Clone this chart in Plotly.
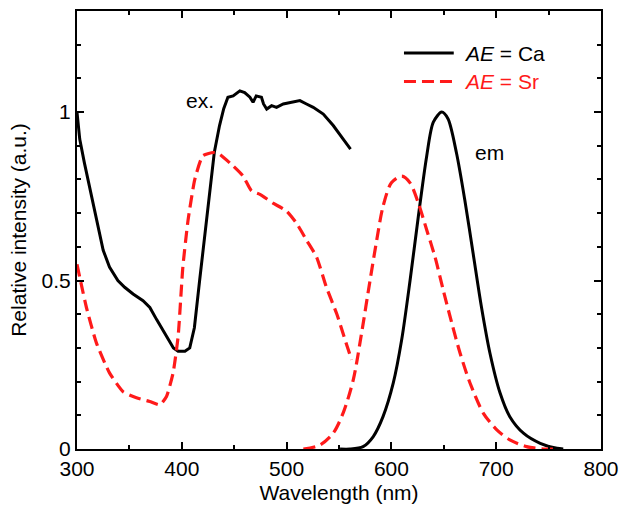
import plotly.graph_objects as go

# Excitation spectra (ex.)
ca_ex_wl = [300, 302.6, 307, 312, 318.5, 325, 331, 339, 345.5, 353.5, 363, 369.5, 376, 384,
            392, 396.5, 403, 407.6, 412, 417, 420, 425, 431, 436, 440, 444, 449, 455.4, 460,
            465, 468, 471, 476, 478, 481, 485.7, 490.4, 496.8, 506, 512.7, 519, 525.4, 535,
            544.5, 554, 561]
ca_ex_int = [1.0, 0.92, 0.85, 0.78, 0.68, 0.59, 0.54, 0.50, 0.48, 0.46, 0.44, 0.42, 0.384,
             0.34, 0.30, 0.29, 0.29, 0.30, 0.36, 0.50, 0.58, 0.72, 0.88, 0.96, 1.01, 1.044,
             1.048, 1.063, 1.058, 1.044, 1.029, 1.048, 1.044, 1.024, 1.009, 1.019, 1.014,
             1.024, 1.029, 1.034, 1.024, 1.014, 0.994, 0.96, 0.92, 0.89]

sr_ex_wl = [300, 309, 318.5, 331, 344, 356.7, 369.4, 379, 385.4, 391.7, 396.5, 401, 406,
            412.4, 420, 430, 436, 449, 458.5, 466.5, 474.5, 487, 500, 509.5, 519, 528.6,
            538, 548, 555.7, 562]
sr_ex_int = [0.548, 0.42, 0.315, 0.226, 0.17, 0.152, 0.141, 0.131, 0.156, 0.226, 0.334, 0.54,
             0.68, 0.80, 0.87, 0.88, 0.875, 0.84, 0.81, 0.766, 0.756, 0.73, 0.706, 0.67, 0.62,
             0.57, 0.48, 0.40, 0.325, 0.265]

# Emission spectra (em)
ca_em_wl = [551, 560.5, 573, 582.7, 592, 601.8, 609.8, 617.8, 625.7, 633.7, 640, 648, 654,
            662, 670, 678, 686, 694, 703.7, 713, 726, 742, 758, 764]
ca_em_int = [0.0, 0.0, 0.007, 0.037, 0.096, 0.196, 0.324, 0.50, 0.69, 0.87, 0.97, 1.0, 0.98,
             0.88, 0.74, 0.58, 0.42, 0.285, 0.166, 0.096, 0.047, 0.017, 0.002, 0.0]

sr_em_wl = [516, 532, 544.5, 554, 563.6, 571.6, 579.6, 586, 592, 600, 610, 617.8, 625.7,
            633.7, 641.6, 649.6, 657.6, 665.5, 675, 687.8, 700.6, 713, 729, 745, 760]
sr_em_int = [0.0, 0.012, 0.047, 0.107, 0.205, 0.345, 0.50, 0.62, 0.72, 0.79, 0.81, 0.79, 0.73,
             0.65, 0.57, 0.47, 0.374, 0.285, 0.196, 0.106, 0.057, 0.027, 0.007, 0.0, 0.0]

x_ticks = [300, 400, 500, 600, 700, 800]
y_ticks = [0, 0.5, 1]
y_tick_text = ["0", "0.5", "1"]

FONT = "Liberation Sans, Arial, sans-serif"
FS = 21
BLACK = "#000000"
RED = "#ff1a1a"
DASH = "12px,6px"

fig = go.Figure()
ca_line = dict(color=BLACK, width=3)
sr_line = dict(color=RED, width=3.2, dash=DASH)

fig.add_trace(go.Scatter(x=ca_ex_wl, y=ca_ex_int, mode="lines", line=ca_line, showlegend=False))
fig.add_trace(go.Scatter(x=ca_em_wl, y=ca_em_int, mode="lines",
                         line=dict(shape="spline", smoothing=0.8, **ca_line), showlegend=False))
fig.add_trace(go.Scatter(x=sr_ex_wl, y=sr_ex_int, mode="lines",
                         line=dict(shape="spline", smoothing=0.5, **sr_line), showlegend=False))
fig.add_trace(go.Scatter(x=sr_em_wl, y=sr_em_int, mode="lines",
                         line=dict(shape="spline", smoothing=0.8, **sr_line), showlegend=False))

axis_common = dict(
    showline=True, linecolor=BLACK, linewidth=2, mirror="ticks",
    ticks="inside", ticklen=7, tickwidth=2, tickcolor=BLACK,
    showgrid=False, zeroline=False, automargin=False,
    tickfont=dict(family=FONT, size=FS, color=BLACK),
)

fig.update_xaxes(
    range=[300, 800], tickvals=x_ticks,
    minor=dict(dtick=50, ticks="inside", ticklen=4, tickwidth=2, tickcolor=BLACK, showgrid=False),
    title=dict(text="Wavelength (nm)", font=dict(family=FONT, size=FS, color=BLACK), standoff=6),
    **axis_common,
)
fig.update_yaxes(
    range=[0, 1.3], tickvals=y_ticks, ticktext=y_tick_text,
    minor=dict(dtick=0.1, tick0=0, ticks="inside", ticklen=4, tickwidth=2, tickcolor=BLACK, showgrid=False),
    title=dict(text="Relative intensity (a.u.)", font=dict(family=FONT, size=FS, color=BLACK), standoff=9),
    **axis_common,
)

# Key in the upper right corner
fig.add_shape(type="line", xref="paper", yref="paper", x0=0.624, x1=0.719, y0=0.904, y1=0.904,
              line=dict(color=BLACK, width=3))
fig.add_shape(type="line", xref="paper", yref="paper", x0=0.624, x1=0.719, y0=0.839, y1=0.839,
              line=dict(color=RED, width=3.2, dash=DASH))
fig.add_annotation(xref="paper", yref="paper", x=0.735, y=0.904, xanchor="left", yanchor="middle",
                   text="<i>AE</i> = Ca", showarrow=False, font=dict(family=FONT, size=FS, color=BLACK))
fig.add_annotation(xref="paper", yref="paper", x=0.735, y=0.839, xanchor="left", yanchor="middle",
                   text="<i>AE</i> = Sr", showarrow=False, font=dict(family=FONT, size=FS, color=RED))

# Curve labels
fig.add_annotation(x=417.7, y=1.034, text="ex.", showarrow=False,
                   font=dict(family=FONT, size=FS, color=BLACK))
fig.add_annotation(x=694, y=0.879, text="em", showarrow=False,
                   font=dict(family=FONT, size=FS, color=BLACK))

fig.update_layout(
    width=619, height=506,
    margin=dict(l=77, r=18, t=11, b=57, autoexpand=False),
    paper_bgcolor="white", plot_bgcolor="white",
    font=dict(family=FONT, color=BLACK),
    showlegend=False,
)

fig.write_html("out.html")
